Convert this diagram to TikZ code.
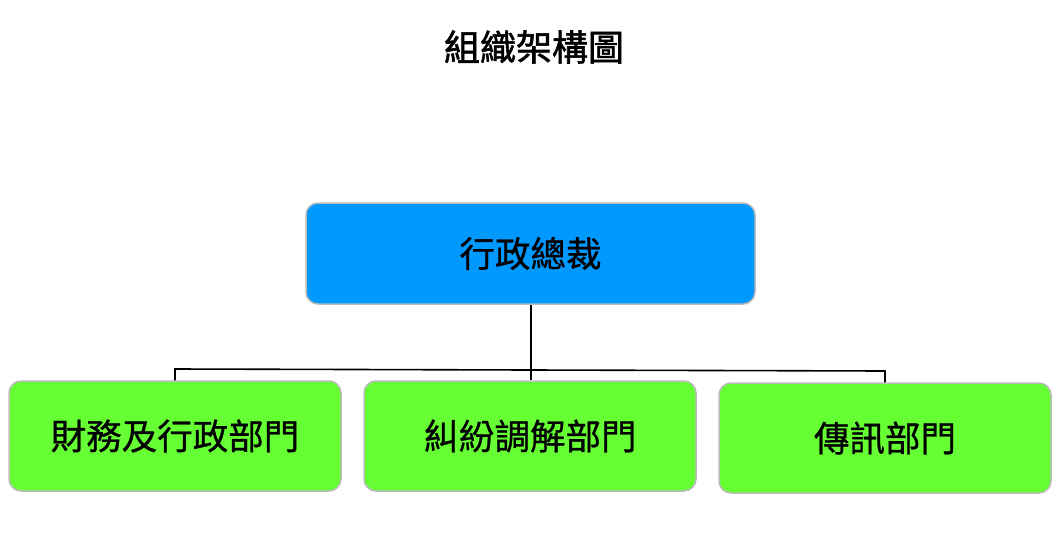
\documentclass[tikz,border=0pt]{standalone}
\usepackage{fontspec}
\newfontfamily\cjk[FakeBold=0.8]{Noto Sans CJK TC}
\newfontfamily\cjktitle[FakeBold=1.6]{Noto Sans CJK TC}
\definecolor{topblue}{HTML}{0099FF}
\definecolor{depgreen}{HTML}{66FF33}
\definecolor{edgegray}{HTML}{BBBBBB}
\begin{document}
\begin{tikzpicture}[x=1pt,y=-1pt,
  box/.style={draw=edgegray,line width=1.5pt,rounded corners=12pt,font=\cjk\fontsize{35.5}{40}\selectfont,text=black,inner sep=0pt},
  conn/.style={draw=black,line width=1.6pt}]
\useasboundingbox (0,0) rectangle (1063,533);
\node[font=\cjktitle\fontsize{36}{40}\selectfont] (title) at (534,47) {組織架構圖};
\node[box,fill=topblue,minimum width=449pt,minimum height=101pt] (ceo) at (530.5,253.5) {行政總裁};
\node[box,fill=depgreen,minimum width=332pt,minimum height=110pt] (fin) at (175,436) {財務及行政部門};
\node[box,fill=depgreen,minimum width=332pt,minimum height=110pt] (med) at (530,436) {糾紛調解部門};
\node[box,fill=depgreen,minimum width=332pt,minimum height=110pt] (com) at (885,438) {傳訊部門};
\coordinate (j) at (531,370);
\draw[conn] (ceo.south -| j) -- (j);
\draw[conn] (j) -- (175,369) -- (fin.north);
\draw[conn] (j) -- (885,371) -- (com.north);
\draw[conn] (j) -- (j |- med.north);
\end{tikzpicture}
\end{document}
